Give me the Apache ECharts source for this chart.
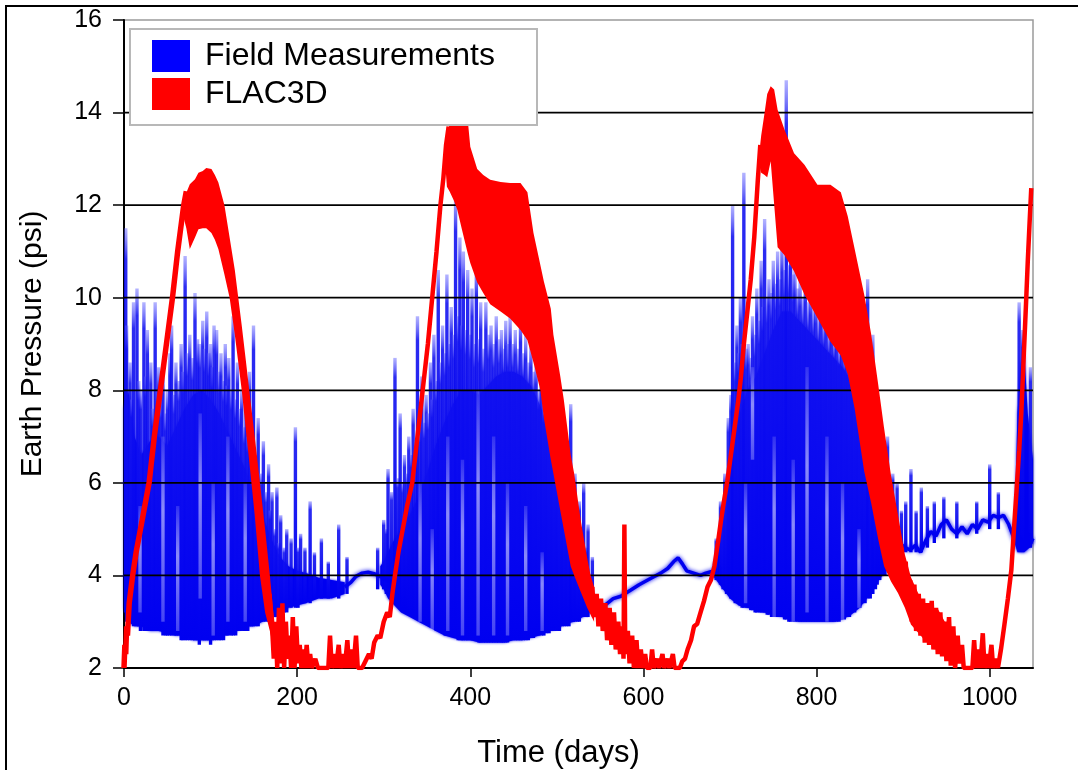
<!DOCTYPE html>
<html><head><meta charset="utf-8">
<script src="https://cdn.jsdelivr.net/npm/echarts@6/dist/echarts.min.js"></script>
<style>html,body{margin:0;padding:0;background:#fff}#c{width:1078px;height:770px}</style>
</head><body><div id="c"></div>
<script>
// ---------- axes ----------
const xTickValues = [0, 200, 400, 600, 800, 1000];
const yTickValues = [2, 4, 6, 8, 10, 12, 14, 16];
const yGridValues = [4, 6, 8, 10, 12, 14];
const X_MIN = 0, X_MAX = 1050, Y_MIN = 2, Y_MAX = 16;

// ---------- FLAC3D (red) : oscillation envelopes (days, high, low) ----------
const redBand1Days = [68, 72, 76, 82, 86, 91, 95, 101, 105, 109, 116, 122, 128, 132, 136, 141, 145, 151, 157, 163, 168.5, 172, 176];
const redBand1High = [12.0, 12.27, 12.45, 12.56, 12.7, 12.74, 12.8, 12.78, 12.65, 12.49, 12.0, 11.3, 10.6, 10.0, 9.4, 8.6, 7.95, 7.0, 6.0, 5.0, 4.0, 3.3, 2.6];
const redBand1Low  = [11.8, 11.5, 11.05, 11.3, 11.48, 11.5, 11.5, 11.4, 11.25, 11.05, 10.5, 10.0, 9.2, 8.6, 8.0, 7.1, 6.4, 5.3, 4.0, 3.2, 2.8, 2.5, 2.3];

const redBand2Days = [371, 373, 376, 381, 385, 390, 397, 400, 408, 415, 423, 435, 446, 458, 466, 473, 481, 485, 493, 496, 504, 508, 512, 516, 520, 527.5, 535, 539, 543];
const redBand2High = [13.1, 13.5, 13.75, 13.85, 13.9, 13.9, 13.85, 13.26, 12.78, 12.65, 12.55, 12.5, 12.48, 12.48, 12.28, 11.4, 10.7, 10.35, 9.76, 9.2, 8.3, 7.8, 7.2, 6.6, 6.2, 5.2, 4.38, 4.0, 3.75];
const redBand2Low  = [12.9, 12.4, 12.3, 12.1, 11.9, 11.5, 10.96, 10.75, 10.33, 10.1, 9.86, 9.7, 9.55, 9.3, 9.08, 8.6, 8.0, 7.4, 6.5, 6.2, 5.4, 5.0, 4.6, 4.2, 4.0, 3.65, 3.3, 3.15, 3.0];

const redBand3Days = [733.7, 736, 740, 743, 747, 751, 755, 763, 774, 786, 801, 816, 828, 836, 844, 855, 863, 871, 878, 886, 894, 902, 909, 925, 940, 951];
const redBand3High = [13.1, 13.5, 14.0, 14.4, 14.57, 14.5, 14.06, 13.63, 13.12, 12.87, 12.44, 12.44, 12.28, 11.76, 11.05, 10.07, 9.22, 8.15, 7.18, 6.16, 5.31, 4.45, 3.96, 3.3, 3.28, 2.9];
const redBand3Low  = [12.9, 12.7, 12.65, 12.6, 12.95, 12.02, 11.09, 10.92, 10.57, 10.07, 9.56, 9.05, 8.75, 8.35, 7.6, 6.25, 5.57, 4.8, 4.2, 3.87, 3.62, 3.3, 2.94, 2.6, 2.43, 2.5];

// ---------- FLAC3D (red) : single-trace parts [day, psi] ----------
const redRise1 = [[0,2.0],[1,2.5],[2,2.3],[3,2.9],[4,2.7],[6,3.4],[10,4.0],[14,4.5],[19,5.0],[24,5.5],[29,6.0],[35,7.0],[42,8.0],[49,9.0],[56,10.0],[62,11.0],[69,12.0],[72,12.3]];
const redTrough1 = [[168,3.6],[171,2.9],[173,2.2],[175,3.0],[177,2.0],[179,3.3],[181,2.1],[183,3.4],[185,2.0],[187,3.0],[189,2.2],[191,2.7],[193,2.0],[195,3.1],[197,2.0],[199,2.9],[201,2.1],[203,2.5],[205,2.0],[207,2.4],[209,2.0],[211,2.5],[213,2.0],[215,2.3],[217,2.0],[221,2.2],[224,2.0],[232,2.0],[236,2.0],[238,2.7],[240,2.0],[243,2.3],[245,2.0],[248,2.5],[250,2.0],[253,2.3],[255,2.0],[258,2.6],[260,2.0],[263,2.4],[265,2.0],[268,2.7],[270,2.0],[275,2.0],[279,2.15],[283,2.3],[286,2.2],[289,2.55],[293,2.7],[296,2.65],[300,3.0],[304,3.2],[307,3.1],[310,3.6],[313,4.0],[317,4.5],[322,5.0],[327,5.5],[333,6.0],[339,7.0],[345,8.0],[351,9.0],[356,10.0],[361,11.0],[365.5,12.0],[369,12.6],[372,13.3],[375,13.7]];
const redTrough2 = [[541,3.75],[543,3.1],[546,3.6],[548,2.9],[551,3.5],[553,2.8],[556,3.4],[558,2.6],[561,3.3],[563,2.5],[566,3.2],[568,2.4],[571,3.0],[573,2.3],[576,2.9],[577,2.2],[578,5.1],[579,2.3],[582,2.8],[584,2.1],[587,2.7],[589,2.0],[592,2.6],[594,2.0],[597,2.4],[599,2.0],[602,2.3],[604,2.0],[608,2.0],[610,2.4],[612,2.0],[616,2.2],[618,2.0],[622,2.3],[624,2.0],[628,2.2],[630,2.0],[634,2.3],[636,2.0],[642,2.0],[645,2.15],[648,2.2],[651,2.4],[655,2.6],[658.5,2.9],[662,2.95],[666,3.2],[670,3.45],[674,3.75],[678,3.9],[682,4.2],[686,4.7],[689.4,5.16],[693,5.6],[697,6.05],[701,6.6],[705,7.15],[709,7.7],[712.5,8.26],[716,9.0],[720,9.69],[724,10.4],[728,11.3],[732,12.5],[735,13.3]];
const redTrough3 = [[893,5.0],[896,4.0],[898,4.6],[900,3.6],[903,4.3],[905,3.3],[908,3.9],[910,3.0],[913,3.8],[915,2.8],[918,3.6],[920,2.7],[923,3.5],[925,2.55],[928,3.4],[930,2.5],[933,3.45],[935,2.4],[938,3.3],[940,2.3],[943,3.2],[945,2.25],[948,3.0],[950,2.15],[953,3.1],[955,2.05],[958,2.9],[960,2.0],[963,2.7],[965,2.1],[968,2.5],[970,2.0],[976,2.0],[980,2.0],[982,2.6],[984,2.0],[987,2.4],[989,2.0],[992,2.75],[994,2.0],[997,2.3],[999,2.0],[1002,2.5],[1004,2.0],[1007,2.2],[1009.5,2.0],[1013,2.4],[1017,2.94],[1021,3.5],[1025,4.12],[1028,5.0],[1031,5.83],[1034,6.7],[1036.5,7.52],[1039,8.6],[1042,9.9],[1044,10.8],[1046,11.6],[1048,12.37]];

// ---------- Field Measurements (blue) : dense core envelopes ----------
const blueCore1Days = [0, 5, 12, 20, 30, 40, 50, 60, 70, 80, 90, 100, 110, 120, 130, 140, 150, 160, 170, 180, 190, 200, 210, 225, 240, 255];
const blueCore1High = [7.6, 8.0, 7.0, 6.6, 6.9, 7.0, 6.8, 7.2, 7.6, 7.9, 8.0, 7.8, 7.5, 7.1, 6.7, 6.3, 5.8, 5.3, 4.8, 4.4, 4.2, 4.1, 4.05, 3.95, 3.9, 3.85];
const blueCore1Low  = [3.3, 3.0, 2.9, 2.9, 2.8, 2.8, 2.75, 2.7, 2.7, 2.6, 2.6, 2.6, 2.65, 2.75, 2.8, 2.9, 2.9, 3.0, 3.1, 3.2, 3.3, 3.35, 3.4, 3.5, 3.5, 3.6];

const blueCore2Days = [296, 300, 305, 310, 320, 330, 340, 350, 360, 370, 380, 390, 400, 410, 420, 430, 440, 450, 460, 470, 480, 490, 500, 510, 520, 530, 538, 545];
const blueCore2High = [4.2, 4.3, 4.5, 4.7, 5.0, 5.3, 5.7, 6.2, 6.8, 7.3, 7.7, 8.0, 8.0, 7.9, 8.1, 8.3, 8.4, 8.4, 8.3, 8.1, 7.7, 7.2, 6.6, 6.0, 5.3, 4.6, 3.9, 3.4];
const blueCore2Low  = [3.8, 3.7, 3.5, 3.4, 3.2, 3.1, 3.0, 2.9, 2.8, 2.7, 2.65, 2.6, 2.6, 2.55, 2.55, 2.55, 2.55, 2.6, 2.6, 2.65, 2.7, 2.8, 2.85, 2.95, 3.0, 3.1, 3.2, 3.25];

const blueCore3Days = [680, 686, 692, 700, 710, 720, 730, 740, 750, 760, 770, 780, 790, 800, 810, 820, 830, 840, 850, 860, 870, 880, 890, 896];
const blueCore3High = [4.2, 4.6, 5.3, 6.3, 7.4, 8.0, 8.3, 8.8, 9.3, 9.7, 9.7, 9.5, 9.3, 9.1, 8.9, 8.7, 8.5, 8.2, 7.8, 7.2, 6.5, 5.7, 4.9, 4.5];
const blueCore3Low  = [4.0, 3.85, 3.7, 3.5, 3.35, 3.3, 3.25, 3.2, 3.15, 3.1, 3.05, 3.0, 3.0, 3.0, 3.0, 3.0, 3.05, 3.15, 3.3, 3.55, 3.85, 4.1, 4.3, 4.45];

const blueCore4Days = [1029, 1032, 1036, 1040, 1044, 1050];
const blueCore4High = [5.2, 7.5, 8.6, 8.8, 7.5, 6.5];
const blueCore4Low  = [4.7, 4.5, 4.5, 4.5, 4.6, 4.7];

// ---------- Field Measurements (blue) : individual spikes [day, low, high] ----------
const blueSpikes = [
 [2,3.2,11.5],[3,3.0,9.4],[7,3.0,8.6],[9,3.0,7.8],[11,2.9,9.9],[15,2.9,10.2],[17,2.9,8.2],[19,2.8,8.0],[23,2.8,9.9],[25,2.8,8.3],[27,2.8,9.3],[31,2.8,8.6],[33,2.8,7.6],[36,2.8,9.9],[38,2.8,8.0],[40,2.8,8.5],[43,2.8,7.8],[45,2.7,8.4],[48,2.7,7.5],[50,2.7,8.0],[53,2.7,8.8],[55,2.7,9.4],[58,2.7,7.9],[60,2.7,8.6],[63,2.7,8.2],[66,2.6,9.0],[68,2.6,8.4],[70.6,2.6,10.9],[73,2.6,8.8],[76,2.6,9.2],[79,2.6,8.7],[82,2.6,10.1],[85,2.6,9.1],[87,2.5,9.0],[91,2.6,9.5],[93,2.6,8.9],[95.6,2.6,9.7],[98,2.6,8.8],[100,2.5,9.0],[102,2.6,8.5],[104,2.6,9.4],[107,2.6,9.3],[110,2.6,8.4],[112,2.6,8.8],[115,2.6,8.2],[117,2.7,9.0],[119,2.7,8.1],[121,2.7,8.7],[124,2.7,8.0],[126,2.7,9.6],[129,2.7,7.8],[131,2.8,8.6],[134,2.8,7.6],[136,2.8,8.0],[139,2.8,7.2],[141,2.8,7.9],[143,2.8,7.0],[145,2.9,8.4],[147,2.9,6.9],[149.6,2.9,9.4],[152,2.9,6.6],[155,2.9,7.4],[158,3.0,6.2],[161,3.0,6.9],[164,3.0,5.8],[167,3.0,6.4],[169,3.0,5.4],[171,3.1,5.8],[174,3.1,5.0],[176.6,3.1,5.9],[179,3.1,4.7],[181,3.2,5.3],[185,3.2,4.6],[188,3.2,5.0],[193,3.3,4.8],[198,3.3,7.2],[201,3.3,4.6],[204,3.4,4.9],[209,3.4,4.6],[215,3.4,5.6],[220,3.5,4.5],[228,3.5,4.8],[236,3.5,4.3],[248,3.5,5.1],[257.6,3.6,4.4],
 [293,3.7,4.6],[300,3.7,5.2],[303,3.6,5.0],[305,3.6,6.3],[309,3.6,5.8],[313,3.5,8.7],[316,3.5,6.1],[319,3.4,7.5],[322,3.3,6.0],[324,3.3,6.6],[327,3.3,6.2],[329,3.2,7.0],[332,3.2,6.6],[334,3.2,7.6],[337,3.1,6.9],[339,3.1,9.6],[342,3.1,7.2],[344,3.0,8.3],[347,3.0,7.3],[349,3.0,7.9],[351,3.0,7.5],[354,2.9,8.6],[356,2.9,7.8],[358,2.9,9.2],[361,2.8,8.2],[363,2.8,10.6],[366,2.8,8.6],[368,2.8,9.4],[371,2.7,8.8],[373,2.7,10.5],[376,2.7,9.0],[378,2.7,9.8],[381,2.7,9.2],[383,2.65,12.2],[386,2.6,9.6],[388,2.6,11.3],[390,2.6,9.4],[392,2.6,11.0],[395,2.6,9.3],[397,2.6,10.6],[400,2.6,9.2],[402,2.6,10.2],[405,2.6,9.0],[407,2.6,10.7],[410,2.55,9.1],[412,2.55,9.9],[415,2.55,8.9],[418,2.55,9.9],[421,2.55,9.2],[424,2.55,9.4],[427,2.55,9.0],[430,2.55,9.6],[433,2.55,9.1],[436,2.55,9.3],[438,2.55,8.9],[441,2.55,9.5],[443,2.55,9.0],[446,2.6,9.6],[449,2.6,9.0],[452,2.6,9.3],[455,2.6,8.9],[458,2.6,9.6],[461,2.6,8.8],[464,2.6,9.2],[467,2.6,8.6],[470,2.65,9.0],[473,2.65,8.4],[476,2.7,8.6],[479,2.7,8.0],[482,2.7,8.4],[485,2.7,7.7],[488,2.75,8.0],[491,2.75,7.3],[494,2.8,7.6],[497,2.8,7.0],[500,2.8,7.4],[503,2.8,6.6],[506,2.9,7.0],[509,2.9,6.3],[511,2.9,6.8],[514,2.9,6.0],[516,3.0,7.7],[519,3.0,5.7],[521,3.0,6.2],[524,3.0,5.3],[526,3.0,5.6],[529,3.1,5.0],[531,3.1,6.0],[534,3.1,4.6],[536,3.1,5.1],[541,3.2,4.4],
 [684,3.9,4.8],[689,3.8,5.6],[692,3.7,5.4],[694,3.7,6.2],[696,3.6,6.0],[698,3.6,7.4],[701,3.5,7.9],[703,3.5,12.0],[706,3.4,8.6],[708,3.4,9.4],[710,3.4,8.8],[712,3.35,10.0],[714,3.3,9.0],[716,3.3,12.7],[719,3.3,8.9],[721,3.3,9.0],[724,3.25,8.7],[726,3.25,9.6],[729,3.2,9.2],[731,3.2,10.2],[734,3.2,9.5],[736,3.2,10.8],[738,3.2,9.8],[740,3.2,11.7],[743,3.15,10.0],[745,3.15,10.4],[748,3.1,10.1],[750,3.1,10.8],[753,3.1,10.3],[755,3.1,11.0],[758,3.1,10.4],[760,3.1,11.2],[763,3.05,10.6],[765,3.05,14.7],[768,3.0,10.7],[770,3.0,11.3],[773,3.0,10.5],[775,3.0,10.6],[778,3.0,10.2],[781,3.0,10.4],[784,3.0,10.0],[787,3.0,10.5],[790,3.0,9.9],[793,3.0,10.2],[796,3.0,9.8],[799,3.0,10.0],[802,3.0,9.6],[805,3.0,10.1],[808,3.0,9.5],[811,3.0,9.8],[814,3.0,9.3],[817,3.0,9.7],[820,3.0,9.2],[823,3.0,9.4],[826,3.0,9.0],[829,3.05,9.6],[832,3.05,8.9],[835,3.1,9.2],[838,3.1,8.7],[841,3.2,9.0],[844,3.2,8.5],[847,3.3,8.8],[850,3.3,8.2],[853,3.4,8.5],[856,3.4,7.9],[859,3.5,10.4],[862,3.5,7.6],[865,3.6,9.2],[868,3.7,7.0],[870,3.8,7.6],[873,3.9,6.8],[876,4.0,7.2],[879,4.0,6.4],[882,4.1,7.0],[885,4.2,6.0],[888,4.3,6.2],[893,4.4,6.0],
 [898,4.5,5.4],[903,4.5,5.6],[909,4.5,6.3],[915,4.5,5.4],[921,4.5,5.9],[928,4.6,5.5],[936,4.7,5.6],[947,4.8,5.7],[962,4.8,5.6],[985,4.9,5.6],[1000,5.0,6.4],[1010,5.0,5.8],[1034,4.6,9.9],[1038,4.6,9.3],[1047,4.6,8.5]
];

// ---------- Field Measurements (blue) : light streaks between readings [day, low, high] ----------
const blueGaps = [
 [18.5,3.2,5.5],[45,3.0,7.0],[62,2.8,5.5],[88,3.5,7.5],[103,2.7,6.0],[120,3.0,7.0],[140,3.0,6.0],
 [342,3.0,6.0],[356,2.8,5.0],[374,2.8,7.0],[391,2.7,6.5],[409,2.7,8.0],[427,2.7,7.0],[443,2.7,6.0],[464,2.8,5.5],[483,2.8,4.5],
 [718,3.4,6.0],[726,6.5,8.5],[751,3.1,7.0],[773,3.0,6.5],[789,3.2,8.5],[812,3.0,7.0],[830,3.0,6.0],[849,3.3,5.0]
];

// ---------- Field Measurements (blue) : quiet baseline traces [day, psi] ----------
const blueBase1 = [[255,3.75],[262,3.85],[268,3.98],[275,4.05],[282,4.07],[290,4.03],[297,3.97],[304,3.9],[310,3.85]];
const blueBase2 = [[541,3.2],[547,3.2],[555,3.35],[565,3.5],[574,3.55],[585,3.68],[595,3.8],[605,3.9],[612,3.97],[620,4.05],[628,4.15],[635,4.3],[640,4.38],[645,4.25],[650,4.1],[658,4.05],[666,4.0],[672,4.05],[678,4.08],[685,4.1]];
const blueBase3 = [[890,4.6],[896,4.7],[902,4.6],[908,4.55],[914,4.65],[920,4.5],[926,4.75],[932,4.95],[938,4.85],[944,5.1],[950,5.2],[956,5.0],[962,4.9],[968,5.05],[974,4.9],[980,5.1],[986,5.0],[992,5.2],[998,5.15],[1004,5.3],[1010,5.25],[1016,5.3],[1022,5.1],[1028,4.8],[1034,4.6],[1040,4.55],[1046,4.65],[1050,4.8]];

// ---------- build ----------
const FONT = 'Liberation Sans, Arial, Helvetica, sans-serif';
const RED = '#ff0000';
const BLUE = '#0000f0';
const NAME_B = 'Field Measurements';
const NAME_R = 'FLAC3D';

const redBands = [
  {days: redBand1Days, high: redBand1High, low: redBand1Low},
  {days: redBand2Days, high: redBand2High, low: redBand2Low},
  {days: redBand3Days, high: redBand3High, low: redBand3Low}
];
const blueBands = [
  {days: blueCore1Days, high: blueCore1High, low: blueCore1Low},
  {days: blueCore2Days, high: blueCore2High, low: blueCore2Low},
  {days: blueCore3Days, high: blueCore3High, low: blueCore3Low},
  {days: blueCore4Days, high: blueCore4High, low: blueCore4Low}
];

function bandSeries(name, bands, color, z, blur) {
  return {
    type: 'custom', name: name, z: z, silent: true,
    itemStyle: {color: color},
    data: bands.map(b => [b.days[0], b.low[0], b.high[0]]),
    encode: {x: 0, y: [1, 2]},
    renderItem: function (params, api) {
      const b = bands[params.dataIndex];
      const top = b.days.map((d, i) => api.coord([d, b.high[i]]));
      const bot = b.days.map((d, i) => api.coord([d, b.low[i]])).reverse();
      return {type: 'polygon', shape: {points: top.concat(bot)},
        style: {fill: color, shadowBlur: blur, shadowColor: color}};
    }
  };
}
function stripSeries(name, data, fill, width, z) {
  return {
    type: 'custom', name: name, z: z, silent: true,
    itemStyle: {color: BLUE},
    data: data, encode: {x: 0, y: [1, 2]},
    renderItem: function (params, api) {
      const d = api.value(0);
      const t = api.coord([d, api.value(2)]);
      const b = api.coord([d, api.value(1)]);
      return {type: 'rect', shape: {x: t[0] - width / 2, y: t[1], width: width, height: b[1] - t[1]},
        style: {fill: fill}};
    }
  };
}
function lineSeries(name, data, color, width, z, blur) {
  return {
    type: 'line', name: name, data: data, z: z, silent: true,
    showSymbol: false, symbol: 'none', smooth: false,
    itemStyle: {color: color},
    lineStyle: {color: color, width: width, shadowBlur: blur, shadowColor: color}
  };
}

const spikeFill = new echarts.graphic.LinearGradient(0, 0, 0, 1, [
  {offset: 0, color: 'rgba(90,90,255,0.45)'},
  {offset: 0.08, color: 'rgba(20,20,240,0.9)'},
  {offset: 1, color: 'rgba(0,0,240,1)'}
]);
const gapFill = new echarts.graphic.LinearGradient(0, 0, 0, 1, [
  {offset: 0, color: 'rgba(255,255,255,0.15)'},
  {offset: 0.4, color: 'rgba(225,225,255,0.6)'},
  {offset: 1, color: 'rgba(225,225,255,0.3)'}
]);

const series = [
  bandSeries(NAME_B, blueBands, BLUE, 1, 3),
  stripSeries(NAME_B, blueSpikes, spikeFill, 3.4, 1),
  stripSeries(NAME_B, blueGaps, gapFill, 3.4, 1),
  lineSeries(NAME_B, blueBase1, BLUE, 3.5, 1, 4),
  lineSeries(NAME_B, blueBase2, BLUE, 3.5, 1, 4),
  lineSeries(NAME_B, blueBase3, BLUE, 3.5, 1, 4),
  {
    type: 'custom', z: 2, silent: true,
    data: yGridValues.map(v => [X_MIN, v]), encode: {x: 0, y: 1},
    renderItem: function (params, api) {
      const v = api.value(1);
      const a = api.coord([X_MIN, v]);
      const b = api.coord([X_MAX, v]);
      return {type: 'line', shape: {x1: a[0], y1: a[1], x2: b[0], y2: b[1]},
        style: {stroke: '#000', lineWidth: 1.7}};
    }
  },
  bandSeries(NAME_R, redBands, RED, 3, 0),
  lineSeries(NAME_R, redRise1, RED, 5.5, 3, 0),
  lineSeries(NAME_R, redTrough1, RED, 4.5, 3, 0),
  lineSeries(NAME_R, redTrough2, RED, 4.5, 3, 0),
  lineSeries(NAME_R, redTrough3, RED, 4.5, 3, 0)
];

const chart = echarts.init(document.getElementById('c'), null, {renderer: 'canvas'});
chart.setOption({
  animation: false,
  backgroundColor: '#fff',
  textStyle: {fontFamily: FONT},
  grid: {left: 124, right: 45, top: 20, bottom: 102, show: true, borderColor: '#9a9a9a', borderWidth: 1.5,
    backgroundColor: '#fff', containLabel: false, outerBoundsMode: 'none'},
  legend: {
    left: 152, top: 40, orient: 'vertical', icon: 'rect',
    itemWidth: 38, itemHeight: 32, itemGap: 6, padding: 0, selectedMode: false, z: 110,
    textStyle: {fontSize: 32, color: '#000', fontFamily: FONT, padding: [8, 0, 0, 10]},
    data: [{name: NAME_B, itemStyle: {color: '#0000ff'}}, {name: NAME_R, itemStyle: {color: RED}}]
  },
  graphic: [
    {type: 'rect', z: 100, shape: {x: 130, y: 29, width: 407, height: 96},
      style: {fill: '#fff', stroke: '#b8b8b8', lineWidth: 2}},
    {type: 'rect', z: 100, shape: {x: 6, y: 6, width: 1200, height: 900},
      style: {fill: 'none', stroke: '#000', lineWidth: 2}}
  ],
  xAxis: {
    type: 'value', min: X_MIN, max: X_MAX, interval: 200,
    axisLine: {show: true, onZero: false, lineStyle: {color: '#000', width: 2}},
    axisTick: {show: true, length: 9, inside: false, customValues: xTickValues, lineStyle: {color: '#000', width: 1.5}},
    axisLabel: {customValues: xTickValues, fontSize: 25, color: '#000', margin: 18, fontFamily: FONT,
      formatter: v => (xTickValues.indexOf(v) >= 0 ? String(v) : '')},
    splitLine: {show: false},
    name: 'Time (days)', nameLocation: 'middle', nameGap: 70,
    nameTextStyle: {fontSize: 31, color: '#000', fontFamily: FONT, padding: [0, 40, 0, 0]}
  },
  yAxis: {
    type: 'value', min: Y_MIN, max: Y_MAX, interval: 2,
    axisLine: {show: true, onZero: false, lineStyle: {color: '#000', width: 2}},
    axisTick: {show: true, length: 11, customValues: yTickValues, lineStyle: {color: '#000', width: 1.5}},
    axisLabel: {customValues: yTickValues, fontSize: 25, color: '#000', margin: 22, fontFamily: FONT},
    splitLine: {show: false},
    name: 'Earth Pressure (psi)', nameLocation: 'middle', nameGap: 76,
    nameTextStyle: {fontSize: 30, color: '#000', fontFamily: FONT}
  },
  series: series
});
</script>
</body></html>
